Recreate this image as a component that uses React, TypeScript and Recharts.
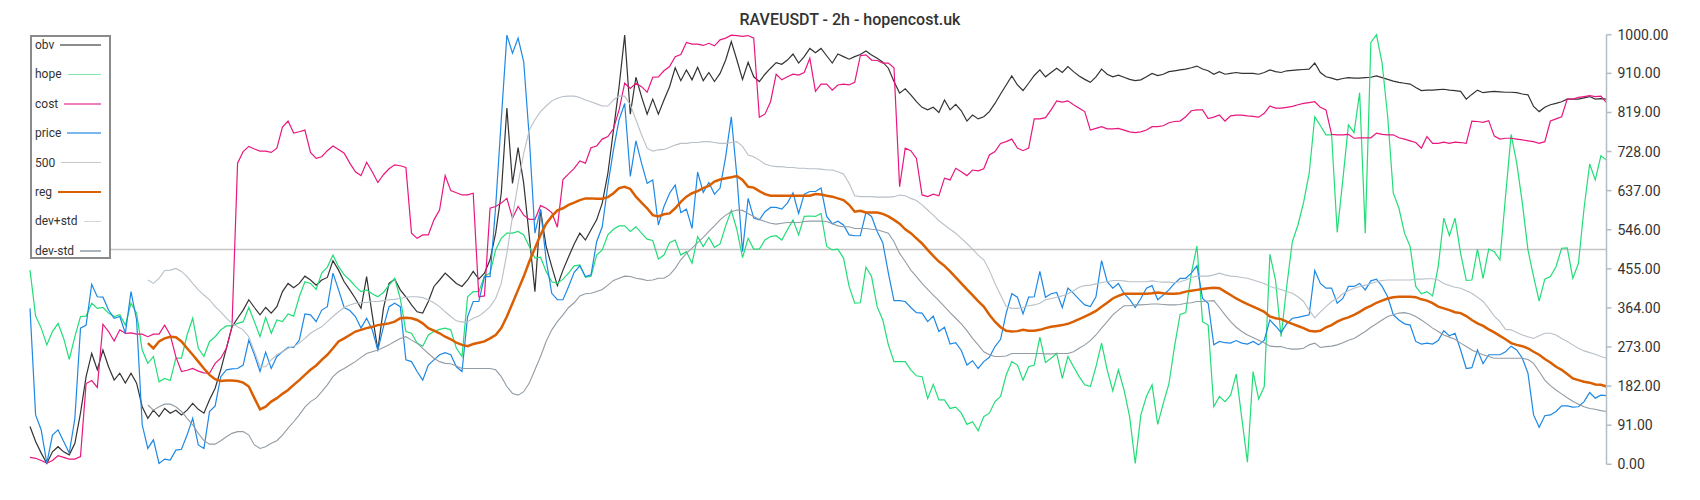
import React from 'react';
import { LineChart, Line, XAxis, YAxis, ReferenceLine, Legend } from 'recharts';

const TITLE = 'RAVEUSDT - 2h - hopencost.uk';
const THRESHOLD = 500;
const BAND_START = 21; // first candle where reg / dev bands exist
const yTicks = [0, 91, 182, 273, 364, 455, 546, 637, 728, 819, 910, 1000];

const obv = [
  88,53,26,2,29,41,29,22,49,119,204,258,220,266,227,196,212,189,212,189,134,107,126,111,130,119,126,115,126,142,128,119,150,177,220,270,320,340,359,383,365,348,365,352,367,402,421,411,421,438,429,417,429,435,474,452,425,406,386,363,437,348,266,363,421,431,406,390,371,355,
  352,379,414,429,445,433,421,414,429,449,431,445,476,538,631,829,654,737,654,530,402,592,507,460,416,452,483,513,538,522,546,569,608,677,778,879,999,815,901,856,815,850,815,848,879,923,893,918,895,924,893,912,891,910,941,984,941,896,936,902,891,908,922,935,931,941,955,934,949,968,958,968,951,934,955,949,943,
  949,954,962,953,945,936,922,891,864,874,860,844,831,825,831,819,848,825,838,823,799,813,804,809,821,840,862,883,904,883,870,887,905,918,902,912,922,912,926,914,904,896,889,902,920,908,902,906,901,896,893,895,902,910,905,908,914,916,918,920,923,927,920,916,908,914,908,910,912,910,910,910,908,912,
  918,914,912,916,917,918,919,920,934,912,902,899,895,898,900,899,899,900,901,904,900,896,892,889,887,885,877,870,871,871,872,873,871,870,868,850,861,871,865,867,868,867,866,866,865,862,860,833,821,831,837,840,844,850,850,850,853,856,850,851,850,
];

const hope = [
  452,345,317,278,309,328,293,244,297,344,345,375,363,365,352,344,348,324,375,352,266,235,251,192,200,195,247,247,301,340,270,251,286,297,313,322,322,328,332,365,332,297,342,305,336,332,350,345,390,425,421,407,445,459,487,460,441,429,414,402,406,397,390,400,417,433,386,309,305,282,
  275,301,309,314,317,313,270,251,390,402,402,438,445,499,526,538,538,542,534,507,480,482,449,425,421,431,445,462,464,435,438,487,499,534,547,555,555,542,553,538,524,521,478,487,516,522,487,495,468,530,507,528,505,513,555,591,546,481,526,501,501,522,530,532,522,546,569,534,577,578,577,584,507,499,501,480,414,
  375,376,459,437,367,336,278,239,239,239,220,206,204,153,186,150,150,130,133,119,93,99,78,111,119,146,158,208,239,231,196,227,231,296,237,247,258,200,251,227,204,185,181,227,282,220,171,220,173,111,2,115,158,185,93,142,187,274,349,353,445,508,332,324,134,158,146,161,210,107,5,216,152,181,
  489,429,297,414,518,557,609,677,809,788,767,767,540,662,790,772,865,538,982,1000,934,809,631,596,538,507,414,397,402,392,460,573,532,573,491,428,429,501,433,501,495,476,623,768,701,608,499,437,380,431,437,460,503,504,433,468,596,699,662,718,708,
];

const cost = [
  16,14,9,3,9,20,16,12,12,18,188,195,179,326,309,287,313,305,306,303,303,297,303,303,324,301,250,216,219,223,217,213,212,235,247,270,320,701,728,740,734,729,729,726,736,785,799,771,774,778,726,712,716,730,741,733,724,701,681,672,703,681,656,674,688,697,695,691,538,526,
  534,534,569,592,672,637,632,627,627,631,390,392,596,600,608,619,573,600,580,570,570,602,596,586,552,663,676,689,706,701,737,741,757,763,781,825,887,875,887,879,866,901,902,916,926,949,954,982,978,978,975,980,974,988,992,999,998,996,998,992,808,815,844,908,895,902,908,906,912,945,868,885,885,871,883,885,883,
  889,951,953,941,940,934,934,923,646,736,730,712,627,623,629,625,666,662,689,681,672,685,683,688,720,728,747,751,757,736,730,736,804,804,807,825,846,843,846,837,829,821,778,782,786,781,781,782,778,774,772,774,778,786,786,788,795,798,799,809,823,825,825,805,808,813,799,811,813,813,811,810,808,817,
  834,829,829,831,833,837,840,842,844,831,825,768,767,767,768,759,760,760,760,771,768,767,767,760,757,753,749,736,763,747,747,750,747,750,749,747,799,798,796,800,764,757,759,759,757,755,753,751,747,751,799,804,809,850,850,854,856,858,856,857,842,
];

const price = [
  363,115,80,2,68,80,53,26,107,317,324,419,390,389,359,340,344,305,402,336,92,37,57,2,12,10,33,35,68,107,45,37,123,136,204,220,222,223,231,289,255,216,261,223,251,262,272,272,289,350,348,332,359,367,445,406,365,358,344,317,340,313,266,320,367,375,367,243,239,216,
  196,231,243,255,260,255,227,216,344,379,379,437,437,600,802,999,957,992,937,759,538,594,476,398,383,383,414,447,462,437,441,518,553,650,732,802,840,670,753,701,654,662,557,600,631,650,586,594,549,680,633,656,629,643,716,809,670,495,619,573,569,588,598,598,594,608,632,584,629,635,635,643,577,560,566,557,534,
  532,532,586,577,542,516,445,381,381,379,365,353,352,332,345,309,319,280,283,265,231,241,223,239,249,274,291,352,397,389,350,389,390,449,389,397,400,365,410,398,384,371,367,390,474,425,410,421,398,384,365,386,410,416,383,394,406,421,433,433,445,462,386,375,278,286,283,282,288,282,280,286,278,289,
  336,322,307,327,340,342,345,348,451,421,410,410,375,386,414,414,421,406,427,431,414,390,348,336,327,324,286,280,282,280,288,311,299,305,266,223,225,266,234,255,255,255,262,275,266,247,212,115,86,113,115,123,136,136,133,134,146,167,154,161,160,
];

// reg, dev+std and dev-std start at candle BAND_START
const reg = [
  282,270,286,293,297,296,286,270,255,239,223,208,198,194,195,195,194,190,181,154,128,134,146,154,164,173,185,196,208,220,230,243,255,270,286,293,301,309,313,317,320,324,326,328,332,340,341,340,336,
  328,317,311,305,297,291,283,278,275,280,283,286,293,301,317,344,375,406,437,472,503,534,560,577,591,596,604,609,615,619,619,618,618,622,631,643,646,641,623,609,596,580,577,582,584,596,611,623,631,636,643,648,658,663,666,668,671,662,646,644,636,629,625,625,625,625,625,625,625,625,629,628,625,623,619,615,604,
  588,590,586,586,586,583,577,569,560,547,538,526,514,499,485,472,462,449,435,421,407,394,380,367,348,332,319,311,309,310,313,311,311,313,317,320,322,324,327,332,338,344,350,357,367,376,386,392,397,397,397,397,397,398,400,398,397,397,398,402,404,406,408,410,411,410,402,394,386,379,373,367,361,355,
  344,340,338,332,327,322,317,311,309,311,319,324,332,338,342,348,355,363,369,376,381,386,389,390,390,390,389,384,381,375,367,363,359,354,352,345,336,328,322,314,307,299,291,282,278,275,270,262,255,245,237,227,220,210,200,196,192,190,186,185,181,
];

const devPlus = [
  429,421,433,451,452,456,449,437,421,406,394,383,367,355,340,328,320,313,297,262,227,227,243,255,262,270,274,282,293,305,313,320,332,344,355,365,371,375,376,377,379,379,381,383,384,386,389,390,390,
  388,383,376,367,355,344,334,331,332,340,345,355,367,386,421,491,577,654,724,778,802,821,834,846,852,856,857,857,854,848,844,839,834,834,848,857,857,837,802,767,736,729,732,733,738,743,747,747,749,749,751,751,749,747,747,749,751,740,720,716,708,699,695,693,693,691,691,689,689,688,688,687,685,685,681,676,654,
  625,623,623,623,622,622,622,623,627,625,619,614,604,592,580,567,557,547,538,526,514,501,487,476,452,421,394,367,363,363,365,369,371,375,383,386,389,392,397,404,412,416,417,420,423,425,428,428,427,425,425,425,425,427,425,424,424,423,425,429,435,438,438,438,441,445,441,438,437,435,433,429,425,421,
  414,410,407,402,398,390,379,359,341,355,367,379,386,397,404,410,414,417,421,425,428,429,429,429,429,429,431,431,432,432,429,421,416,412,410,404,398,389,379,363,345,332,314,313,307,301,297,293,299,305,305,301,293,286,278,270,264,260,256,251,247,
];

const devMinus = [
  138,126,134,140,140,134,123,107,92,72,55,47,47,55,64,72,76,76,68,45,37,41,49,55,68,84,99,115,133,146,154,169,185,204,216,223,231,239,249,258,262,266,272,278,286,293,297,289,282,
  270,258,247,239,235,234,229,223,223,223,223,223,223,220,204,181,165,161,169,189,220,251,286,313,332,348,365,376,392,397,398,402,407,417,428,433,438,437,433,431,428,429,433,433,441,456,476,491,503,516,528,542,555,569,580,588,592,591,584,577,570,565,561,559,561,563,563,563,565,566,566,566,565,560,555,553,553,
  549,549,549,547,546,542,538,518,491,472,452,437,421,407,394,381,367,353,340,327,311,293,278,262,255,251,251,252,258,258,258,258,258,258,257,257,258,258,258,262,270,278,288,301,317,332,348,359,369,369,371,371,372,373,373,372,371,371,372,375,376,379,379,380,381,365,348,332,319,309,301,295,289,283,
  275,274,274,270,268,268,270,278,282,272,274,275,278,283,289,293,301,309,319,327,336,344,348,352,353,350,344,336,327,317,309,301,296,291,282,274,266,260,255,251,247,247,247,247,247,247,244,235,216,196,183,173,164,155,147,140,134,130,128,125,123,
];

const categories = obv.map((_, i) => i);

const data = categories.map((c, i) => ({
  idx: c,
  obv: obv[i],
  hope: hope[i],
  cost: cost[i],
  price: price[i],
  reg: i >= BAND_START ? reg[i - BAND_START] : null,
  devPlus: i >= BAND_START ? devPlus[i - BAND_START] : null,
  devMinus: i >= BAND_START ? devMinus[i - BAND_START] : null,
}));

const legendItems = [
  { name: 'obv', color: '#8c8c8c', w: 1.5 },
  { name: 'hope', color: '#7fe8aa', w: 1.5 },
  { name: 'cost', color: '#ee80bb', w: 1.5 },
  { name: 'price', color: '#7ab8ee', w: 1.5 },
  { name: '500', color: '#c8c8c8', w: 1.5 },
  { name: 'reg', color: '#d96200', w: 2.5 },
  { name: 'dev+std', color: '#d2d7dc', w: 1.5 },
  { name: 'dev-std', color: '#aab2ba', w: 1.5 },
];

function LegendBox() {
  return (
    <div
      style={{
        position: 'relative',
        width: 81,
        height: 224,
        boxSizing: 'border-box',
        border: '2px solid #8a8a8a',
        background: '#ffffff',
        fontFamily: 'Roboto, sans-serif',
      }}
    >
      {legendItems.map((it, k) => (
        <div
          key={it.name}
          style={{
            position: 'absolute',
            left: 3,
            width: 66,
            top: 10 + k * 29.4 - 8 - 2,
            height: 16,
            display: 'flex',
            alignItems: 'center',
          }}
        >
          <span style={{ fontSize: 12, color: '#333', lineHeight: '16px', whiteSpace: 'nowrap' }}>{it.name}</span>
          <span style={{ flex: 1, marginLeft: 6, height: it.w, background: it.color }} />
        </div>
      ))}
    </div>
  );
}

export default function App() {
  return (
    <div
      style={{
        position: 'absolute',
        left: 0,
        top: 0,
        width: 1700,
        height: 500,
        background: '#ffffff',
        fontFamily: 'Roboto, sans-serif',
      }}
    >
      <LineChart width={1700} height={500} data={data} margin={{ top: 34.7, right: 0, bottom: 35.7, left: 30 }}>
        <XAxis dataKey="idx" hide />
        <YAxis
          orientation="right"
          domain={[0, 1000]}
          ticks={yTicks}
          interval={0}
          width={93.5}
          tickSize={5}
          tickMargin={6}
          tickFormatter={(v: number) => v.toFixed(2)}
          tick={{ fill: '#333333', fontSize: 14, fontFamily: 'Roboto, sans-serif' }}
          axisLine={{ stroke: '#b4bcc4', strokeWidth: 1.5 }}
          tickLine={{ stroke: '#b4bcc4', strokeWidth: 1.5 }}
        />
        <ReferenceLine y={THRESHOLD} stroke="#c4c4c4" strokeWidth={1.5} />
        <Line dataKey="obv" stroke="#333333" strokeWidth={1.2} dot={false} activeDot={false} isAnimationActive={false} />
        <Line dataKey="hope" stroke="#22dd77" strokeWidth={1.2} dot={false} activeDot={false} isAnimationActive={false} />
        <Line dataKey="cost" stroke="#e8177f" strokeWidth={1.2} dot={false} activeDot={false} isAnimationActive={false} />
        <Line dataKey="price" stroke="#1e88e5" strokeWidth={1.2} dot={false} activeDot={false} isAnimationActive={false} />
        <Line dataKey="reg" stroke="#d95f02" strokeWidth={2.5} dot={false} activeDot={false} isAnimationActive={false} />
        <Line dataKey="devPlus" stroke="#b8c0c8" strokeWidth={1.1} dot={false} activeDot={false} isAnimationActive={false} />
        <Line dataKey="devMinus" stroke="#939ca4" strokeWidth={1.1} dot={false} activeDot={false} isAnimationActive={false} />
        <Legend
          content={<LegendBox />}
          layout="horizontal"
          verticalAlign="middle"
          align="center"
          wrapperStyle={{ left: 30, top: 35, width: 81, height: 224 }}
        />
      </LineChart>
      <div
        style={{
          position: 'absolute',
          left: 0,
          top: 12,
          width: 1700,
          textAlign: 'center',
          fontSize: 16,
          lineHeight: '16px',
          fontWeight: 500,
          color: '#333333',
          pointerEvents: 'none',
        }}
      >
        {TITLE}
      </div>
    </div>
  );
}
